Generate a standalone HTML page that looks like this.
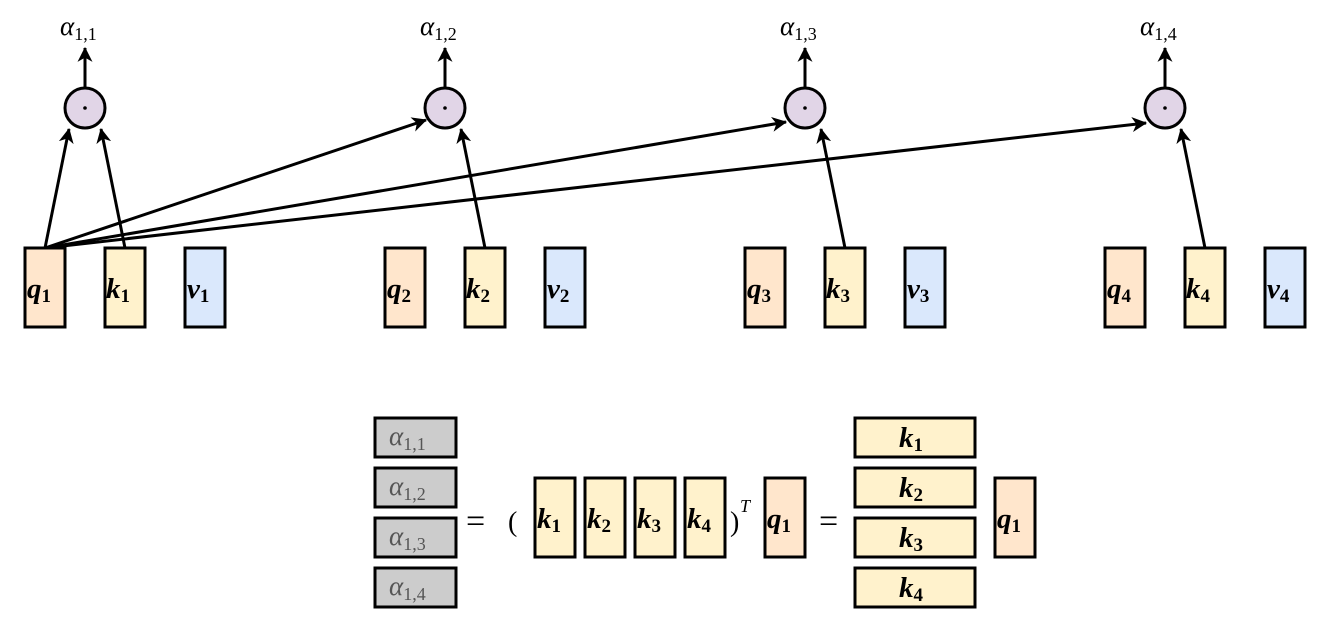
<!DOCTYPE html>
<html><head><meta charset="utf-8"><style>
html,body{margin:0;padding:0;background:#fff;width:1326px;height:627px;overflow:hidden}
text{font-family:"Liberation Serif",serif}
.v{font-weight:bold;font-style:italic;font-size:29px}
.s{font-weight:bold;font-size:19px;font-style:normal}
.a{font-style:italic;font-size:27px}
.as{font-size:18px;font-style:normal}
</style></head><body>
<svg width="1326" height="627" viewBox="0 0 1326 627" xmlns="http://www.w3.org/2000/svg">
<defs>
<marker id="ar" viewBox="0 0 14 14" refX="13" refY="7" markerWidth="15" markerHeight="15" markerUnits="userSpaceOnUse" orient="auto">
<path d="M0,0 L14,7 L0,14 L4,7 Z" fill="#000"/>
</marker>
</defs>
<g stroke="#000" stroke-width="3" fill="none">
<line x1="85" y1="88" x2="85" y2="48" marker-end="url(#ar)"/>
<line x1="445" y1="88" x2="445" y2="48" marker-end="url(#ar)"/>
<line x1="805" y1="88" x2="805" y2="48" marker-end="url(#ar)"/>
<line x1="1165" y1="88" x2="1165" y2="48" marker-end="url(#ar)"/>
<line x1="45" y1="248" x2="69" y2="129" marker-end="url(#ar)"/>
<line x1="125" y1="248" x2="101" y2="129" marker-end="url(#ar)"/>
<line x1="45" y1="248" x2="426" y2="120" marker-end="url(#ar)"/>
<line x1="485" y1="248" x2="461" y2="129" marker-end="url(#ar)"/>
<line x1="45" y1="248" x2="786" y2="122" marker-end="url(#ar)"/>
<line x1="845" y1="248" x2="821" y2="129" marker-end="url(#ar)"/>
<line x1="45" y1="248" x2="1146" y2="123" marker-end="url(#ar)"/>
<line x1="1205" y1="248" x2="1181" y2="129" marker-end="url(#ar)"/>
</g>
<g stroke="#000" stroke-width="3" fill="#e1d5e7">
<circle cx="85" cy="108" r="20"/><circle cx="445" cy="108" r="20"/><circle cx="805" cy="108" r="20"/><circle cx="1165" cy="108" r="20"/>
</g>
<g fill="#000"><circle cx="85" cy="108" r="1.8"/><circle cx="445" cy="108" r="1.8"/><circle cx="805" cy="108" r="1.8"/><circle cx="1165" cy="108" r="1.8"/></g>
<g>
<text x="60" y="35" class="a">α<tspan class="as" dy="5">1,1</tspan></text>
<text x="420" y="35" class="a">α<tspan class="as" dy="5">1,2</tspan></text>
<text x="780" y="35" class="a">α<tspan class="as" dy="5">1,3</tspan></text>
<text x="1140" y="35" class="a">α<tspan class="as" dy="5">1,4</tspan></text>
</g>
<g stroke="#000" stroke-width="3">
<rect x="25" y="248" width="40" height="79" fill="#ffe6cc"/><rect x="105" y="248" width="40" height="79" fill="#fff2cc"/><rect x="185" y="248" width="40" height="79" fill="#dae8fc"/>
<rect x="385" y="248" width="40" height="79" fill="#ffe6cc"/><rect x="465" y="248" width="40" height="79" fill="#fff2cc"/><rect x="545" y="248" width="40" height="79" fill="#dae8fc"/>
<rect x="745" y="248" width="40" height="79" fill="#ffe6cc"/><rect x="825" y="248" width="40" height="79" fill="#fff2cc"/><rect x="905" y="248" width="40" height="79" fill="#dae8fc"/>
<rect x="1105" y="248" width="40" height="79" fill="#ffe6cc"/><rect x="1185" y="248" width="40" height="79" fill="#fff2cc"/><rect x="1265" y="248" width="40" height="79" fill="#dae8fc"/>
</g>
<g>
<text x="27" y="298" class="v">q<tspan class="s" dy="4">1</tspan></text>
<text x="106" y="298" class="v">k<tspan class="s" dy="4">1</tspan></text>
<text x="187" y="298" class="v">v<tspan class="s" dy="4">1</tspan></text>
<text x="387" y="298" class="v">q<tspan class="s" dy="4">2</tspan></text>
<text x="466" y="298" class="v">k<tspan class="s" dy="4">2</tspan></text>
<text x="547" y="298" class="v">v<tspan class="s" dy="4">2</tspan></text>
<text x="747" y="298" class="v">q<tspan class="s" dy="4">3</tspan></text>
<text x="826" y="298" class="v">k<tspan class="s" dy="4">3</tspan></text>
<text x="907" y="298" class="v">v<tspan class="s" dy="4">3</tspan></text>
<text x="1107" y="298" class="v">q<tspan class="s" dy="4">4</tspan></text>
<text x="1186" y="298" class="v">k<tspan class="s" dy="4">4</tspan></text>
<text x="1267" y="298" class="v">v<tspan class="s" dy="4">4</tspan></text>
</g>
<g stroke="#000" stroke-width="3">
<rect x="375" y="418" width="81" height="39" fill="#cccccc"/><rect x="375" y="468" width="81" height="39" fill="#cccccc"/><rect x="375" y="518" width="81" height="39" fill="#cccccc"/><rect x="375" y="568" width="81" height="39" fill="#cccccc"/>
<rect x="535" y="478" width="40" height="79" fill="#fff2cc"/><rect x="585" y="478" width="40" height="79" fill="#fff2cc"/><rect x="635" y="478" width="40" height="79" fill="#fff2cc"/><rect x="685" y="478" width="40" height="79" fill="#fff2cc"/>
<rect x="765" y="478" width="40" height="79" fill="#ffe6cc"/>
<rect x="855" y="418" width="120" height="39" fill="#fff2cc"/><rect x="855" y="468" width="120" height="39" fill="#fff2cc"/><rect x="855" y="518" width="120" height="39" fill="#fff2cc"/><rect x="855" y="568" width="120" height="39" fill="#fff2cc"/>
<rect x="995" y="478" width="40" height="79" fill="#ffe6cc"/>
</g>
<g fill="#555">
<text x="389" y="445" class="a">α<tspan class="as" dy="5">1,1</tspan></text>
<text x="389" y="495" class="a">α<tspan class="as" dy="5">1,2</tspan></text>
<text x="389" y="545" class="a">α<tspan class="as" dy="5">1,3</tspan></text>
<text x="389" y="595" class="a">α<tspan class="as" dy="5">1,4</tspan></text>
</g>
<text x="466" y="532" font-size="34">=</text>
<text x="508" y="531" font-size="28">(</text>
<text x="537" y="528" class="v">k<tspan class="s" dy="4">1</tspan></text>
<text x="587" y="528" class="v">k<tspan class="s" dy="4">2</tspan></text>
<text x="637" y="528" class="v">k<tspan class="s" dy="4">3</tspan></text>
<text x="687" y="528" class="v">k<tspan class="s" dy="4">4</tspan></text>
<text x="730" y="531" font-size="28">)</text>
<text x="740" y="512" font-size="18" font-style="italic">T</text>
<text x="767" y="528" class="v">q<tspan class="s" dy="4">1</tspan></text>
<text x="819" y="532" font-size="34">=</text>
<text x="899" y="447" class="v">k<tspan class="s" dy="4">1</tspan></text>
<text x="899" y="497" class="v">k<tspan class="s" dy="4">2</tspan></text>
<text x="899" y="547" class="v">k<tspan class="s" dy="4">3</tspan></text>
<text x="899" y="597" class="v">k<tspan class="s" dy="4">4</tspan></text>
<text x="997" y="528" class="v">q<tspan class="s" dy="4">1</tspan></text>
</svg>
</body></html>
